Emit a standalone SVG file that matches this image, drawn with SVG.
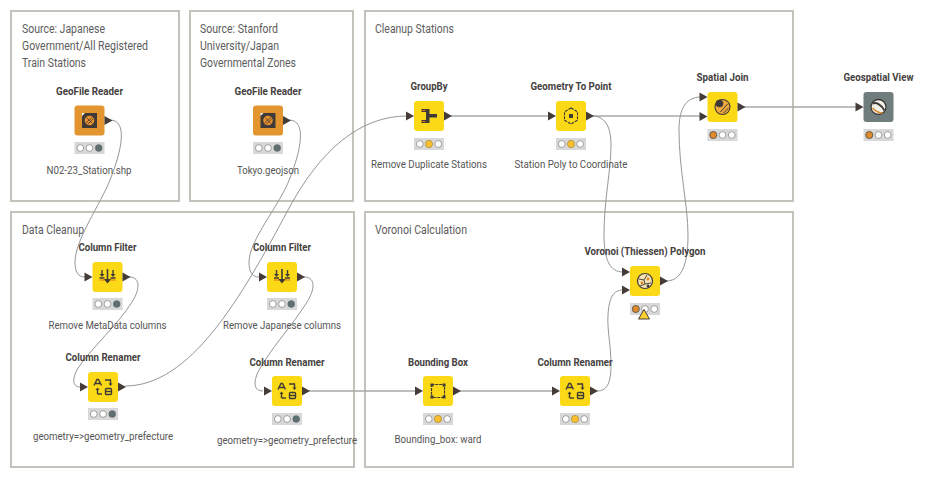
<svg xmlns="http://www.w3.org/2000/svg" xmlns:xlink="http://www.w3.org/1999/xlink" width="938" height="481" viewBox="0 0 938 481">
<style>
text{font-family:Roboto,"Liberation Sans",sans-serif;text-anchor:middle}
.frame{fill:#fff;stroke:#c3c3bb;stroke-width:2}
.note{font-size:12.5px;fill:#5c5c5c;text-anchor:start}
.title{font-size:11px;font-weight:700;fill:#454140}
.label{font-size:11px;fill:#555}
.conn{fill:none;stroke:#969696;stroke-width:1}
.line{fill:none;stroke:#a8a8a8;stroke-width:1.500}
.ic{fill:none;stroke:#3e3a38;stroke-width:1.400}
.icf{fill:#3e3a38}
</style>
<defs>
<rect id="box" x="-15" y="-15" width="30" height="30" rx="3"/>
<polygon id="pin" points="-8,-4.500 0,0 -8,4.500" fill="#453c37"/>
<polygon id="pout" points="0,-4.500 8,0 0,4.500" fill="#453c37"/>
<g id="lights">
<rect x="-15" y="-6" width="30" height="12" fill="#d8d8d8"/>
<circle cx="-9.200" r="3.400" fill="#fff" stroke="#8a8a8a" stroke-width=".8"/>
<circle cx="0" r="3.400" fill="#fff" stroke="#8a8a8a" stroke-width=".8"/>
<circle cx="9.200" r="3.400" fill="#fff" stroke="#8a8a8a" stroke-width=".8"/>
</g>
<circle id="lgray" r="3.500" fill="#5f6e6e"/>
<circle id="lyel" r="3.600" fill="#fbc02d" stroke="#a88a30" stroke-width=".6"/>
<circle id="lora" r="3.500" fill="#e08a2b" stroke="#55504a" stroke-width=".8"/>
<g id="i-geofile">
<rect x="-7.500" y="-7.500" width="15" height="15" fill="#3f3a38"/>
<path d="M-7.500 -7.500h3l-3 3z" fill="#fff"/>
<circle r="4.800" fill="#e8912d"/>
<path d="M-3.500 2.500L3 -3.500M-2 4L4 -2M-3 -3L3 3" stroke="#3f3a38" stroke-width=".8"/>
</g>
<g id="i-filter">
<path d="M-.8 -8h1.600v10h3l-3.800 4.500l-3.800-4.500h3z" class="icf"/>
<path d="M-5.500 -7v5M5.500 -7v5M-8 1h5M3 1h5" class="ic" stroke-width="1.200"/>
<path d="M-8 -3h5l-2.500 3zM3 -3h5l-2.500 3z" class="icf"/>
<path d="M-8 3h5M3 3h5" stroke="#e0701f" stroke-width="1"/>
</g>
<g id="i-rename">
<path d="M-9 -1.500L-6 -7.500H-4.500L-1.500 -1.500M-7.500 -3.500H-3" class="ic"/>
<path d="M2 -7H7.500V-3" class="ic"/>
<path d="M5.500 -3.500h4l-2 2.500z" class="icf"/>
<path d="M-5.500 7V2.500" class="ic"/>
<path d="M-7.500 3h4l-2-2.500z" class="icf"/>
<path d="M-5.500 7H-1" class="ic"/>
<rect x="2.500" y="1.500" width="6" height="6" rx="1" class="ic"/>
<path d="M2.500 4.500h6" class="ic" stroke-width="1"/>
</g>
<g id="i-group">
<path d="M-7.500 -7h8v5H8v3.500H.5V7h-8V4H-3V-4H-7.500z" class="icf"/>
<path d="M-7.500 -5.500h4M-7.500 5.500h4" stroke="#e0701f" stroke-width="1"/>
</g>
<g id="i-point">
<path d="M0 -8L6.500 -4.200V4.200L0 8L-6.500 4.200V-4.200z" fill="none" stroke="#3e3a38" stroke-width="1.100" stroke-dasharray="3 1"/>
<rect x="-2" y="-2" width="4" height="4" class="icf"/>
</g>
<g id="i-bbox">
<rect x="-6.500" y="-6.500" width="13" height="13" fill="none" stroke="#3e3a38" stroke-width="1.200" stroke-dasharray="3 .8"/>
<rect x="-7.500" y="-7.500" width="3" height="3" class="icf"/>
<rect x="4.500" y="-7.500" width="3" height="3" class="icf"/>
<rect x="-7.500" y="4.500" width="3" height="3" class="icf"/>
<rect x="4.500" y="4.500" width="3" height="3" class="icf"/>
</g>
<g id="i-join">
<circle r="7.500" fill="#f2a93b" stroke="#3e3a38" stroke-width="1.100"/>
<circle cx="-3" cy="-3.500" r="3.800" class="icf"/>
<path d="M-2 5L5 -3M1 6L6 1" stroke="#3e3a38" stroke-width="1"/>
</g>
<g id="i-view">
<circle r="7.500" fill="#f4f1ea" stroke="#3e3a38" stroke-width="1.300"/>
<path d="M-5.500 -3.500C-2 -5 3 -2 6 3.500" fill="none" stroke="#3e3a38" stroke-width="2"/>
<path d="M-6 1C-3 4 1 6 4 6" fill="none" stroke="#d98a2a" stroke-width="1.600"/>
</g>
<g id="i-voronoi">
<circle r="7.500" fill="#f6e3b4" stroke="#3e3a38" stroke-width="1.200"/>
<path d="M-6 -2L-1 -1L2 -6M-1 -1L0 3L-5 5M0 3L6 2" fill="none" stroke="#3e3a38" stroke-width=".9"/>
<circle cx="3" cy="-2" r="1.400" fill="#e08a2b"/>
<circle cx="-3" cy="2" r="1.400" fill="#e08a2b"/>
<circle cx="3" cy="5" r="1.400" fill="#3e3a38"/>
</g>
</defs>

<rect width="938" height="481" fill="#fff"/>

<g id="annotations">
<rect class="frame" x="11" y="11" width="168" height="190"/>
<rect class="frame" x="190" y="11" width="163" height="190"/>
<rect class="frame" x="365" y="11" width="428" height="190"/>
<rect class="frame" x="11" y="212" width="343" height="255"/>
<rect class="frame" x="365" y="212" width="428" height="255"/>
<text class="note" x="22" y="33" textLength="83" lengthAdjust="spacingAndGlyphs">Source: Japanese</text>
<text class="note" x="22" y="50" textLength="126" lengthAdjust="spacingAndGlyphs">Government/All Registered</text>
<text class="note" x="22" y="67" textLength="64" lengthAdjust="spacingAndGlyphs">Train Stations</text>
<text class="note" x="200" y="33" textLength="78" lengthAdjust="spacingAndGlyphs">Source: Stanford</text>
<text class="note" x="200" y="50" textLength="79" lengthAdjust="spacingAndGlyphs">University/Japan</text>
<text class="note" x="200" y="67" textLength="96" lengthAdjust="spacingAndGlyphs">Governmental Zones</text>
<text class="note" x="375" y="33" textLength="79" lengthAdjust="spacingAndGlyphs">Cleanup Stations</text>
<text class="note" x="22" y="234" textLength="62" lengthAdjust="spacingAndGlyphs">Data Cleanup</text>
<text class="note" x="375" y="234" textLength="92" lengthAdjust="spacingAndGlyphs">Voronoi Calculation</text>
</g>

<g id="connectors">
<path class="conn" d="M110 120C128 120 122 150 110 180C100 205 75 240 75 262C75 272 78 277 85 277"/>
<path class="conn" d="M289 120C307 120 301 150 290 178C280 205 249 240 249 262C249 272 252 277 259 277"/>
<path class="conn" d="M128 277C140 276 141 288 132 302C120 322 90 350 78 368C72 378 72 387 80 387"/>
<path class="conn" d="M303 277C315 276 316 288 307 302C295 322 268 352 258 372C253 383 254 391 263 391"/>
<path class="conn" d="M125 386C190 386 240 300 288 210C320 150 360 116 407 116"/>
<path class="line" d="M450 116H549"/>
<path class="line" d="M592 116H701"/>
<path class="line" d="M744 107H857"/>
<path class="conn" d="M592 116C604 116 611 125 611 145C611 170 604 200 604 235C604 260 610 272 623 272"/>
<path class="conn" d="M666 281C680 281 688 268 688 235C688 205 679 170 679 130C679 110 685 97 701 97"/>
<path class="conn" d="M597 391C606 391 611 385 611 365C611 345 607 330 608 315C609 298 613 290 623 290"/>
<path class="line" d="M308 391H417"/>
<path class="line" d="M459 391H554"/>
</g>

<g id="node-geofile-1" transform="translate(89.500,120.500)">
<use href="#box" fill="#e3962f"/><use href="#i-geofile"/><use href="#pout" x="15"/>
<use href="#lights" y="27.500"/><use href="#lgray" x="9.200" y="27.500"/>
<text class="title" y="-25.500" textLength="67" lengthAdjust="spacingAndGlyphs">GeoFile Reader</text>
<text class="label" x="-.5" y="53.500" textLength="85" lengthAdjust="spacingAndGlyphs">N02-23_Station.shp</text>
</g>
<g id="node-geofile-2" transform="translate(268,120.500)">
<use href="#box" fill="#e3962f"/><use href="#i-geofile"/><use href="#pout" x="15"/>
<use href="#lights" y="27.500"/><use href="#lgray" x="9.200" y="27.500"/>
<text class="title" y="-25.500" textLength="67" lengthAdjust="spacingAndGlyphs">GeoFile Reader</text>
<text class="label" y="53.500" textLength="62" lengthAdjust="spacingAndGlyphs">Tokyo.geojson</text>
</g>
<g id="node-filter-1" transform="translate(107.500,277)">
<use href="#box" fill="#fcd916"/><use href="#i-filter"/><use href="#pin" x="-15"/><use href="#pout" x="15"/>
<use href="#lights" y="27"/><use href="#lgray" x="9.200" y="27"/>
<text class="title" y="-26" textLength="58" lengthAdjust="spacingAndGlyphs">Column Filter</text>
<text class="label" y="52" textLength="118" lengthAdjust="spacingAndGlyphs">Remove MetaData columns</text>
</g>
<g id="node-filter-2" transform="translate(282,277)">
<use href="#box" fill="#fcd916"/><use href="#i-filter"/><use href="#pin" x="-15"/><use href="#pout" x="15"/>
<use href="#lights" y="27"/><use href="#lgray" x="9.200" y="27"/>
<text class="title" y="-26" textLength="58" lengthAdjust="spacingAndGlyphs">Column Filter</text>
<text class="label" y="52" textLength="118" lengthAdjust="spacingAndGlyphs">Remove Japanese columns</text>
</g>
<g id="node-renamer-1" transform="translate(103,387)">
<use href="#box" fill="#fcd916"/><use href="#i-rename"/><use href="#pin" x="-15"/><use href="#pout" x="15"/>
<use href="#lights" y="27"/><use href="#lgray" x="9.200" y="27"/>
<text class="title" y="-26" textLength="75" lengthAdjust="spacingAndGlyphs">Column Renamer</text>
<text class="label" y="53" textLength="140" lengthAdjust="spacingAndGlyphs">geometry=&gt;geometry_prefecture</text>
</g>
<g id="node-renamer-2" transform="translate(287,391)">
<use href="#box" fill="#fcd916"/><use href="#i-rename"/><use href="#pin" x="-15"/><use href="#pout" x="15"/>
<use href="#lights" y="28"/><use href="#lgray" x="9.200" y="28"/>
<text class="title" y="-25" textLength="75" lengthAdjust="spacingAndGlyphs">Column Renamer</text>
<text class="label" y="53" textLength="140" lengthAdjust="spacingAndGlyphs">geometry=&gt;geometry_prefecture</text>
</g>
<g id="node-groupby" transform="translate(429,116)">
<use href="#box" fill="#fcd916"/><use href="#i-group"/><use href="#pin" x="-15"/><use href="#pout" x="15"/>
<use href="#lights" y="28"/><use href="#lyel" y="28"/>
<text class="title" y="-26" textLength="37" lengthAdjust="spacingAndGlyphs">GroupBy</text>
<text class="label" y="52" textLength="116" lengthAdjust="spacingAndGlyphs">Remove Duplicate Stations</text>
</g>
<g id="node-geom-to-point" transform="translate(571,116)">
<use href="#box" fill="#fcd916"/><use href="#i-point"/><use href="#pin" x="-15"/><use href="#pout" x="15"/>
<use href="#lights" y="28"/><use href="#lyel" y="28"/>
<text class="title" y="-26" textLength="81" lengthAdjust="spacingAndGlyphs">Geometry To Point</text>
<text class="label" y="52" textLength="113" lengthAdjust="spacingAndGlyphs">Station Poly to Coordinate</text>
</g>
<g id="node-spatial-join" transform="translate(722.500,107)">
<use href="#box" fill="#fcd916"/><use href="#i-join"/><use href="#pin" x="-15" y="-10"/><use href="#pin" x="-15" y="9.500"/><use href="#pout" x="15"/>
<use href="#lights" y="28"/><use href="#lora" x="-9.200" y="28"/>
<text class="title" y="-26" textLength="52" lengthAdjust="spacingAndGlyphs">Spatial Join</text>
</g>
<g id="node-geospatial-view" transform="translate(878.500,107)">
<use href="#box" fill="#6f7d7c"/><use href="#i-view"/><use href="#pin" x="-15"/>
<use href="#lights" y="28"/><use href="#lora" x="-9.200" y="28"/>
<text class="title" y="-26" textLength="70" lengthAdjust="spacingAndGlyphs">Geospatial View</text>
</g>
<g id="node-voronoi" transform="translate(645,281)">
<use href="#box" fill="#fcd916"/><use href="#i-voronoi"/><use href="#pin" x="-15" y="-9"/><use href="#pin" x="-15" y="9"/><use href="#pout" x="15"/>
<use href="#lights" y="28"/><use href="#lora" x="-9.200" y="28"/>
<polygon points="-1,28.500 4.500,38 -6.500,38" fill="#fbd02e" stroke="#4a403b" stroke-width="1"/>
<text class="title" y="-26" textLength="121" lengthAdjust="spacingAndGlyphs">Voronoi (Thiessen) Polygon</text>
</g>
<g id="node-bbox" transform="translate(438,391)">
<use href="#box" fill="#fcd916"/><use href="#i-bbox"/><use href="#pin" x="-15"/><use href="#pout" x="15"/>
<use href="#lights" y="28"/><use href="#lyel" y="28"/>
<text class="title" y="-25" textLength="60" lengthAdjust="spacingAndGlyphs">Bounding Box</text>
<text class="label" y="52" textLength="87" lengthAdjust="spacingAndGlyphs">Bounding_box: ward</text>
</g>
<g id="node-renamer-3" transform="translate(575,391)">
<use href="#box" fill="#fcd916"/><use href="#i-rename"/><use href="#pin" x="-15"/><use href="#pout" x="15"/>
<use href="#lights" y="28"/><use href="#lyel" y="28"/>
<text class="title" y="-25" textLength="75" lengthAdjust="spacingAndGlyphs">Column Renamer</text>
</g>
</svg>
